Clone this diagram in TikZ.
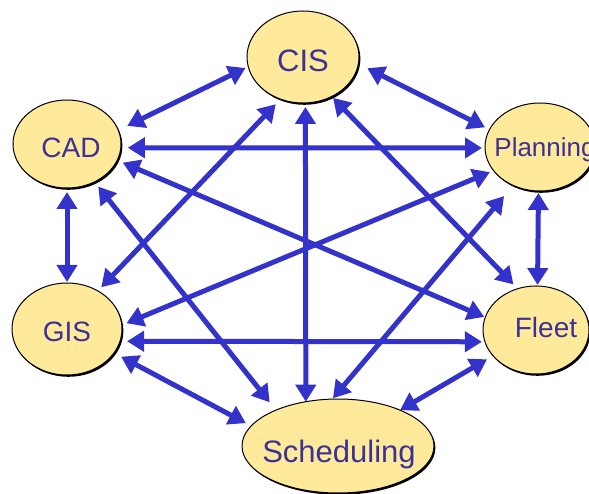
\documentclass[tikz,border=0pt]{standalone}
\usepackage{fontspec}
\setmainfont{Liberation Sans}
\usetikzlibrary{arrows.meta,shadows,shapes.geometric}

\definecolor{boxfill}{RGB}{255,233,154}
\definecolor{linkblue}{RGB}{51,51,204}
\definecolor{labelblue}{RGB}{60,50,150}

\tikzset{
  sys/.style={ellipse, draw=black, line width=1pt, fill=boxfill,
    inner sep=0pt, outer sep=0pt,
    drop shadow={shadow xshift=1.4pt, shadow yshift=-1.8pt, fill=black, opacity=1}},
  % label text of size #1 (pt), capitals centred on the ellipse
  lab/.style={text=labelblue, inner sep=0pt, font=\fontsize{#1}{#1}\selectfont,
    text height=0.72*#1 pt, text depth=0pt},
  link/.style={draw=linkblue, line width=5pt,
    {Triangle[length=17pt,width=20pt]}-{Triangle[length=17pt,width=20pt]}},
}

% \sysLink{from anchor}{to anchor}{gap at start}{gap at end}
\newcommand\sysLink[4]{\draw[link, shorten <=#3pt, shorten >=#4pt] (#1) -- (#2);}

\begin{document}
\begin{tikzpicture}[x=1pt,y=-1pt]
  \useasboundingbox (0,0) rectangle (589,494);
  \clip (0,0) rectangle (589,494);

  % systems
  \node[sys, minimum width=112pt, minimum height=92pt,
    label={[lab=31, yshift=-3pt]center:CIS}] (cis) at (303,57) {};
  \node[sys, minimum width=108pt, minimum height=88pt,
    label={[lab=28, xshift=4pt, yshift=-3pt]center:CAD}] (cad) at (67,144) {};
  \node[sys, minimum width=110pt, minimum height=88pt,
    label={[lab=26, xshift=5pt]center:Planning}] (plan) at (540,147) {};
  \node[sys, minimum width=110pt, minimum height=92pt,
    label={[lab=28, yshift=-2pt]center:GIS}] (gis) at (67,329) {};
  \node[sys, minimum width=106pt, minimum height=88pt,
    label={[lab=28, xshift=10pt, yshift=3pt]center:Fleet}] (fleet) at (536,330) {};
  \node[sys, minimum width=192pt, minimum height=94pt,
    label={[lab=31, xshift=1pt, yshift=-5pt]center:Scheduling}] (sched) at (338,446) {};

  % every system talks to every other
  \sysLink{cad.15}{cis.190}{10}{3}
  \sysLink{cad.-4}{plan.181}{7}{3}
  \sysLink{cad.-18}{fleet.166}{6}{1}
  \sysLink{cad.-90}{gis.90}{4}{1}
  \sysLink{cad.-54}{sched.150}{6}{10}
  \sysLink{cis.242}{gis.51}{7}{5}
  \sysLink{cis.-87}{sched.126}{4}{0}
  \sysLink{cis.-7}{plan.161}{10}{5}
  \sysLink{cis.-54}{fleet.114}{2}{6}
  \sysLink{plan.235}{sched.97}{14}{1}
  \sysLink{plan.-92}{fleet.88}{2}{1}
  \sysLink{gis.4}{plan.207}{5}{4}
  \sysLink{gis.-13}{fleet.193}{7}{3}
  \sysLink{gis.-27}{sched.167}{8}{6}
  \sysLink{fleet.211}{sched.30}{7}{0}
\end{tikzpicture}
\end{document}
